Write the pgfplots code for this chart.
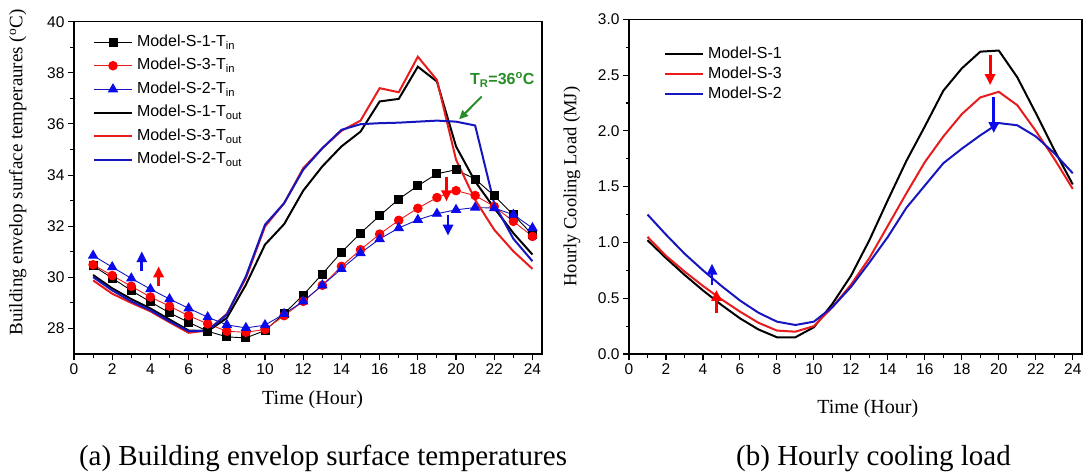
\documentclass[border=0pt]{standalone}
\usepackage{pgfplots}
\pgfplotsset{compat=1.18}
\usepackage{fontspec}
\setmainfont{Liberation Serif}
\newfontfamily\sfarial{Liberation Sans}
\usetikzlibrary{arrows.meta}
\definecolor{myred}{RGB}{232,28,28}
\definecolor{myblue}{RGB}{22,22,190}
\definecolor{mkblue}{RGB}{10,10,235}
\definecolor{mygreen}{RGB}{40,140,40}
\tikzset{bigarrow/.style={line width=2.8pt, -{Triangle[length=11pt,width=10pt]}}}
\pgfplotsset{
  legend image code/.code={\draw[mark repeat=2,mark phase=2,#1] plot coordinates {(0pt,0pt)(19pt,0pt)(38pt,0pt)};},
  common/.style={
    scale only axis, anchor=south west,
    xmin=0, xmax=24.5,
    xtick={0,2,...,24}, minor x tick num=1,
    tick align=outside, tick pos=left,
    major tick length=6pt, minor tick length=3.5pt,
    every tick/.style={line width=1.1pt, black},
    axis line style={line width=1.2pt},
    /pgf/number format/assume math mode=true,
    tick label style={font=\sfarial\fontsize{15.5}{18}\selectfont},
    legend cell align=left,
  },
}
\pgfplotstableread{
h  s1in  s3in  s2in  s1out s3out s2out
1  30.45 30.49 30.85 30.09 29.88 30.01
2  29.97 30.07 30.40 29.57 29.36 29.49
3  29.48 29.65 29.96 29.15 29.00 29.06
4  29.04 29.23 29.54 28.78 28.67 28.71
5  28.61 28.87 29.15 28.35 28.24 28.28
6  28.24 28.50 28.79 27.92 27.83 27.89
7  27.89 28.18 28.44 27.89 27.92 27.92
8  27.67 27.89 28.14 28.41 28.57 28.54
9  27.63 27.85 28.02 29.71 29.97 30.04
10 27.92 27.96 28.13 31.28 31.99 32.06
11 28.58 28.50 28.57 32.08 32.90 32.90
12 29.31 29.06 29.06 33.39 34.27 34.21
13 30.13 29.69 29.69 34.34 35.05 35.05
14 30.98 30.43 30.33 35.12 35.73 35.77
15 31.73 31.08 30.95 35.70 36.13 35.99
16 32.41 31.69 31.50 36.88 37.40 36.03
17 33.06 32.23 31.93 36.98 37.24 36.05
18 33.58 32.70 32.25 38.24 38.63 36.09
19 34.05 33.12 32.49 37.66 37.72 36.13
20 34.21 33.39 32.64 35.12 34.60 36.09
21 33.84 33.20 32.73 33.75 33.03 35.94
22 33.19 32.77 32.71 32.71 31.86 32.88
23 32.45 32.19 32.45 31.73 31.02 31.51
24 31.67 31.60 31.93 30.89 30.33 30.63
}\temps
\pgfplotstableread{
h  s1   s3   s2
1  1.02 1.05 1.25
2  0.86 0.88 1.07
3  0.71 0.74 0.90
4  0.57 0.61 0.75
5  0.44 0.49 0.61
6  0.32 0.38 0.48
7  0.22 0.28 0.37
8  0.15 0.21 0.29
9  0.15 0.20 0.26
10 0.24 0.25 0.29
11 0.45 0.42 0.42
12 0.70 0.62 0.60
13 1.02 0.86 0.82
14 1.38 1.15 1.05
15 1.73 1.44 1.31
16 2.04 1.72 1.51
17 2.36 1.95 1.71
18 2.56 2.15 1.84
19 2.71 2.30 1.96
20 2.72 2.35 2.07
21 2.48 2.23 2.05
22 2.16 2.00 1.95
23 1.83 1.75 1.80
24 1.52 1.48 1.62
}\load
\begin{document}
\begin{tikzpicture}[x=1pt,y=1pt]
\useasboundingbox (0,0) rectangle (1085,475);
% ---------------- (a)
\begin{axis}[common,
  at={(74pt,121pt)}, width=468pt, height=332.3pt,
  ymin=27, ymax=40, ytick={28,30,...,40}, minor y tick num=1,
  xlabel={Time (Hour)},
  xlabel style={at={(axis description cs:0.51,-0.1505)}, anchor=base, font=\fontsize{20}{22}\selectfont},
  ylabel={Building envelop surface temperaures (\textsuperscript{o}C)},
  ylabel style={at={(axis description cs:-0.12,0.546)}, anchor=center, font=\fontsize{19}{21}\selectfont},
  legend style={at={(axis description cs:0.0406,0.9615)}, anchor=north west, draw=none, fill=none,
    inner sep=0pt, outer sep=0pt, font=\sfarial\fontsize{16}{16}\selectfont,
    row sep=8pt, column sep=4pt, nodes={inner sep=0pt, text height=12pt, text depth=3.5pt}},
]
\addplot[black, line width=0.9pt, mark=square*, mark size=4pt, mark options={solid, fill=black}] table[x=h,y=s1in]{\temps};
\addlegendentry{Model-S-1-T\textsubscript{in}}
\addplot[myred, line width=0.9pt, mark=*, mark size=4.3pt, mark options={solid, fill=red, draw=red}] table[x=h,y=s3in]{\temps};
\addlegendentry{Model-S-3-T\textsubscript{in}}
\addplot[myblue, line width=0.9pt, mark=triangle*, mark size=5.2pt, mark options={solid, fill=mkblue, draw=mkblue}] table[x=h,y=s2in]{\temps};
\addlegendentry{Model-S-2-T\textsubscript{in}}
\addplot[black, line width=2pt, no markers] table[x=h,y=s1out]{\temps};
\addlegendentry{Model-S-1-T\textsubscript{out}}
\addplot[myred, line width=2pt, no markers] table[x=h,y=s3out]{\temps};
\addlegendentry{Model-S-3-T\textsubscript{out}}
\addplot[myblue, line width=2pt, no markers] table[x=h,y=s2out]{\temps};
\addlegendentry{Model-S-2-T\textsubscript{out}}
% annotations
\draw[mkblue, bigarrow] (axis cs:3.55,30.23) -- (axis cs:3.55,31.02);
\draw[red, bigarrow] (axis cs:4.43,29.65) -- (axis cs:4.43,30.43);
\draw[red, bigarrow] (axis cs:19.5,33.91) -- (axis cs:19.5,32.97);
\draw[mkblue, bigarrow] (axis cs:19.58,32.45) -- (axis cs:19.58,31.63);
\draw[mygreen, line width=2pt, -{Triangle[length=9pt,width=8pt]}] (axis cs:21.34,37.07) -- (axis cs:20.16,36.18);
\node[font=\sfarial\bfseries\fontsize{16}{16}\selectfont, text=mygreen] at (axis cs:22.42,37.72) {T\textsubscript{R}=36\textsuperscript{o}C};
\end{axis}
% ---------------- (b)
\begin{axis}[common,
  at={(629pt,121pt)}, width=453pt, height=334.7pt,
  ymin=0, ymax=3, ytick={0,0.5,...,3}, minor y tick num=1,
  yticklabel style={/pgf/number format/.cd, fixed, fixed zerofill, precision=1},
  xlabel={Time (Hour)},
  xlabel style={at={(axis description cs:0.527,-0.179)}, anchor=base, font=\fontsize{20}{22}\selectfont},
  ylabel={Hourly Cooling Load (MJ)},
  ylabel style={at={(axis description cs:-0.126,0.5)}, anchor=center, font=\fontsize{18.5}{20}\selectfont},
  legend style={at={(axis description cs:0.0773,0.9196)}, anchor=north west, draw=none, fill=none,
    inner sep=0pt, outer sep=0pt, font=\sfarial\fontsize{16}{16}\selectfont,
    row sep=4.7pt, column sep=4pt, nodes={inner sep=0pt, text height=12pt, text depth=3.5pt}},
]
\addplot[black, line width=2pt, no markers] table[x=h,y=s1]{\load};
\addlegendentry{Model-S-1}
\addplot[myred, line width=2pt, no markers] table[x=h,y=s3]{\load};
\addlegendentry{Model-S-3}
\addplot[myblue, line width=2pt, no markers] table[x=h,y=s2]{\load};
\addlegendentry{Model-S-2}
\draw[mkblue, bigarrow] (axis cs:4.49,0.62) -- (axis cs:4.49,0.81);
\draw[red, bigarrow] (axis cs:4.73,0.365) -- (axis cs:4.73,0.574);
\draw[red, bigarrow] (axis cs:19.53,2.68) -- (axis cs:19.53,2.41);
\draw[mkblue, bigarrow] (axis cs:19.73,2.30) -- (axis cs:19.73,1.98);
\end{axis}
% captions
\node[anchor=base, font=\fontsize{29}{32}\selectfont] at (323,10) {(a) Building envelop surface temperatures};
\node[anchor=base, font=\fontsize{29}{32}\selectfont] at (873.5,10) {(b) Hourly cooling load};
\end{tikzpicture}
\end{document}
